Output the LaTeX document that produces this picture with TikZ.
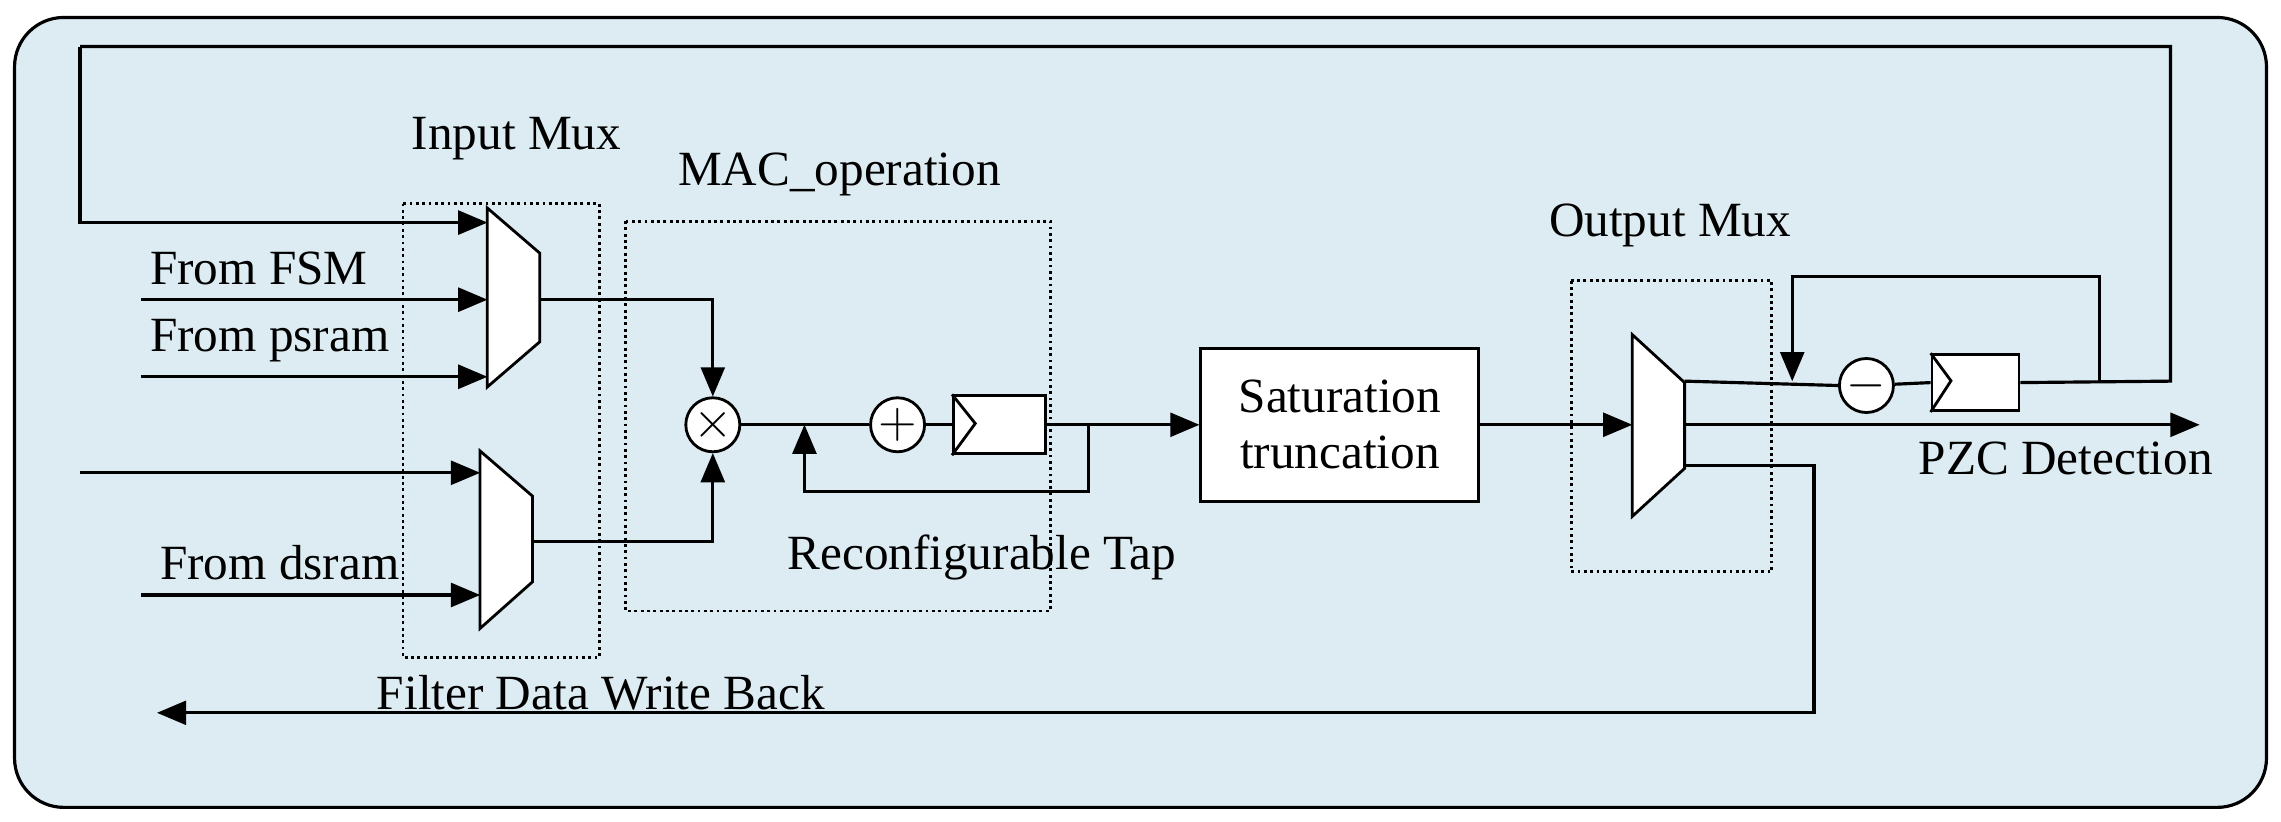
\documentclass[tikz,border=0pt]{standalone}
\usepackage{fontspec}
\setmainfont{Liberation Serif}
\usetikzlibrary{arrows,positioning}
\definecolor{panel}{RGB}{220,236,242}
\begin{document}
\begin{tikzpicture}[x=0.014547cm,y=-0.014547cm,>=triangle 45,semithick,
                    font=\fontsize{14}{16}\selectfont]
  \tikzstyle{wire}=[line width=0.9pt]
  \tikzstyle{op}=[circle,draw,fill=white,inner sep=0pt,minimum size=0.54cm,line width=0.8pt]
  \tikzstyle{grp}=[draw,densely dotted,line width=0.8pt]
  \tikzstyle{mux}=[draw,fill=white,line width=0.8pt]
  \tikzstyle{reg}=[draw,fill=white,line width=0.8pt]

  \useasboundingbox (0,0) rectangle (1568,565);
  \draw[fill=panel,rounded corners=14pt,line width=0.9pt] (10,12) rectangle (1558,555);

  % dotted groups
  \draw[grp] (277,140) rectangle (412,452);
  \draw[grp] (430,152) rectangle (722,420);
  \draw[grp] (1080,193) rectangle (1218,393);
  \node (inmux)  at (355,95)  {Input Mux};
  \node (mac)    at (577,120) {MAC\_operation};
  \node (outmux) at (1148,155) {Output Mux};

  % muxes
  \draw[mux] (335,143) -- (371,174) -- (371,235) -- (335,266) -- cycle;
  \draw[mux] (330,310) -- (366,341) -- (366,400) -- (330,432) -- cycle;
  \draw[mux] (1122,230) -- (1158,263) -- (1158,322) -- (1122,355) -- cycle;
  \coordinate (m1o) at (371,206);
  \coordinate (m2o) at (366,372);

  % operators and registers
  \node[op] (mul) at (490,292) {$\times$};
  \node[op] (add) at (617,292) {$+$};
  \node[reg,minimum width=0.92cm,minimum height=0.58cm] (r1) at (687,292) {};
  \draw[line width=0.8pt] (r1.north west) -- ++(16,20) -- (r1.south west);
  \node[draw,fill=white,minimum width=2.78cm,minimum height=1.53cm,align=center,
        line width=0.8pt] (sat) at (921,292) {Saturation\\truncation};
  \node[op] (sub) at (1283,265) {$-$};
  \node[reg,minimum width=0.87cm,minimum height=0.56cm] (r2) at (1358,263) {};
  \draw[line width=0.8pt] (r2.north west) -- ++(14,19) -- (r2.south west);

  % inputs
  \coordinate (fb) at (55,32);
  \coordinate (tr) at (1492,32);
  \draw[wire,->] (fb) |- (335,153);
  \draw[wire,->] (55,325) -- (330,325);
  \draw[wire,->] (97,206) -- (335,206);
  \draw[wire,->] (97,259) -- (335,259);
  \draw[wire,->] (97,409) -- (330,409);
  \node[anchor=south west,inner sep=1pt] (fsm)   at (100,199) {From FSM};
  \node[anchor=south west,inner sep=1pt] (psram) at (100,252) {From psram};
  \node[anchor=south west,inner sep=1pt] (dsram) at (107,402) {From dsram};

  % MAC path
  \draw[wire,->] (m1o) -| (mul.north);
  \draw[wire,->] (m2o) -| (mul.south);
  \draw[wire] (mul) -- (add);
  \draw[wire] (add) -- (r1.west);
  \draw[wire,->] (r1.east) -- (sat.west);
  \draw[wire,->] (748,292) |- (553,338) -- (553,292);
  \node (tap) at (675,383) {Reconfigurable Tap};

  % output side
  \draw[wire,->] (sat.east) -- (1122,292);
  \draw[wire] (1158,262) -- (sub.west);
  \draw[wire] (sub) -- (r2.west);
  \draw[wire] (r2.east) -- (1492,262) -- (tr) -- (fb);
  \draw[wire,->] (1443,262) |- (1232,190) -- (1232,262);
  \draw[wire,->] (1158,292) -- (1512,292);
  \node (pzc) at (1420,315) {PZC Detection};
  \draw[wire,->] (1158,320) -| (1247,490) -- (108,490);
  \node (wb) at (413,476) {Filter Data Write Back};
\end{tikzpicture}
\end{document}
